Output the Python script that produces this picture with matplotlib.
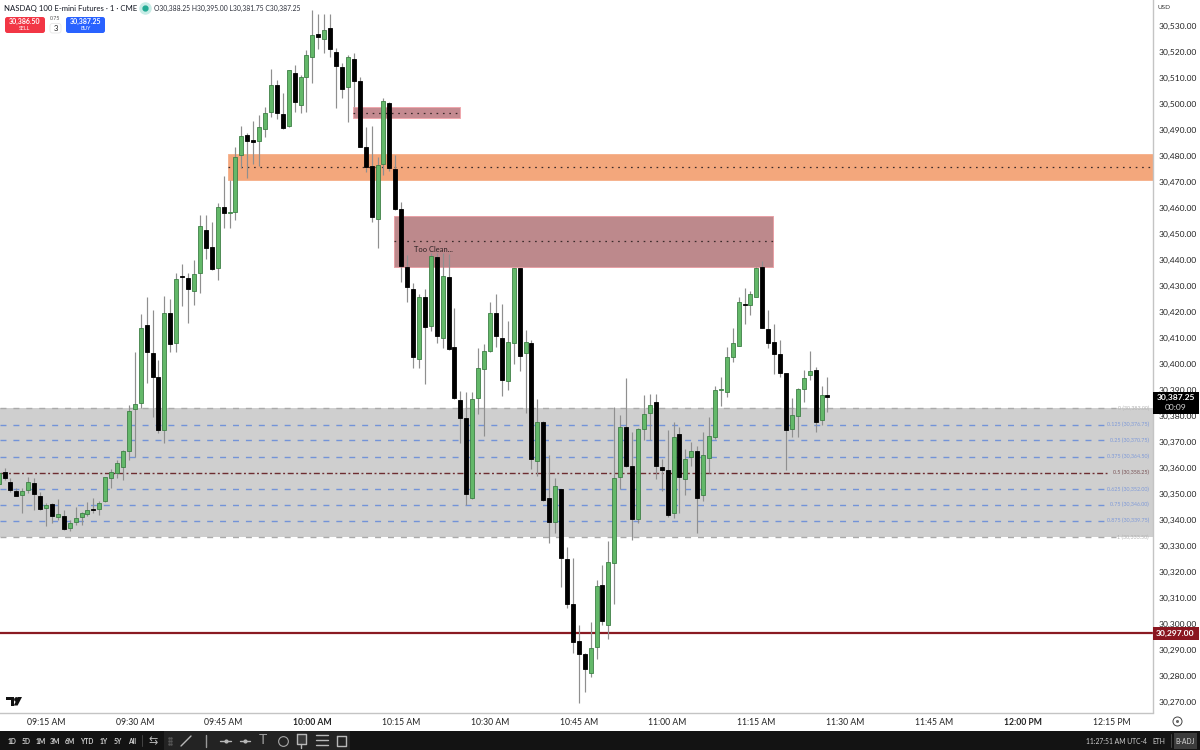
import numpy as np
import matplotlib
matplotlib.use("Agg")
import matplotlib.pyplot as plt
from matplotlib.patches import Rectangle, FancyBboxPatch, Polygon
from matplotlib.lines import Line2D
from matplotlib.ticker import FuncFormatter

plt.rcParams['font.family'] = ['Lato', 'DejaVu Sans']
plt.rcParams['lines.scale_dashes'] = False

PRICE_BASE = 30000
bar_minutes = np.arange(-8, 133)  # minutes after 09:15 AM

opens = PRICE_BASE + np.array([
    354.0,358.7,354.6,351.4,349.7,351.5,354.5,349.2,
    344.8,346.3,341.4,341.6,336.9,339.5,341.1,342.3,344.5,344.5,
    347.4,356.1,358.3,360.6,366.5,382.9,385.2,415.0,404.2,395.1,
    374.7,419.8,408.3,433.9,433.3,428.3,435.0,451.6,445.1,436.9,
    460.4,458.0,458.7,480.5,488.2,486.3,485.9,490.6,496.9,507.5,
    496.4,491.6,512.0,499.7,510.5,518.0,527.2,525.2,529.2,520.2,
    514.5,506.5,517.3,508.9,483.6,476.3,455.9,476.9,500.6,475.2,
    459.7,437.3,429.0,402.2,425.8,414.7,441.4,410.2,433.4,406.8,
    386.3,379.3,348.6,386.9,398.2,405.1,419.6,410.2,393.7,408.0,
    436.9,404.2,408.3,362.7,377.9,348.4,339.2,351.9,325.1,307.7,
    293.7,288.4,281.1,291.4,315.2,299.8,323.7,356.8,375.7,360.9,
    340.4,375.0,381.4,385.4,360.5,359.5,342.7,373.0,355.8,364.2,
    366.6,349.8,364.0,371.9,390.0,389.5,402.9,407.2,423.3,422.9,
    425.9,437.3,413.6,408.7,403.9,396.5,375.0,380.2,390.6,395.9,
    397.8,378.6,388.25])
closes = PRICE_BASE + np.array([
    358.0,356.1,351.6,349.5,351.1,354.6,350.1,344.2,
    345.9,341.8,342.3,336.5,338.8,341.0,342.9,344.1,344.1,346.6,
    356.6,358.4,362.2,366.5,381.9,384.6,414.1,404.6,395.2,374.7,
    419.8,407.7,432.7,433.7,428.9,434.6,453.2,444.6,436.5,460.4,
    458.0,458.7,479.8,487.7,485.9,485.6,491.1,496.6,507.5,496.8,
    490.9,513.2,500.9,510.5,518.9,526.8,525.7,528.4,521.1,514.7,
    506.0,518.0,509.1,483.7,476.0,456.8,476.5,501.1,475.4,459.7,
    437.9,429.6,402.7,425.8,414.5,441.8,411.0,434.0,405.8,386.9,
    379.3,350.1,386.8,398.4,405.2,419.6,411.0,393.9,408.7,436.9,
    403.3,408.7,363.6,377.7,347.8,339.5,353.3,325.4,307.7,293.2,
    288.4,282.8,290.7,314.8,301.3,323.8,356.1,375.7,360.7,340.4,
    375.0,380.8,384.3,361.0,359.3,342.1,372.2,356.6,363.6,366.6,
    348.7,365.2,372.6,390.0,390.4,402.7,408.1,423.9,422.7,426.9,
    437.1,414.0,408.3,403.9,396.7,374.7,380.4,390.6,394.9,397.6,
    377.8,388.3,387.25])
highs = PRICE_BASE + np.array([
    359.3,360.0,356.1,352.5,352.3,356.8,356.1,350.7,
    346.5,346.5,348.3,343.9,340.1,345.2,343.3,347.0,348.4,347.5,
    356.8,359.7,363.2,367.0,384.3,404.6,419.2,426.0,420.9,401.6,
    426.4,425.0,435.2,438.6,435.0,440.0,457.4,457.4,454.6,461.9,
    472.5,470.9,483.7,491.8,488.8,493.7,495.9,498.8,513.4,509.3,
    504.2,513.2,515.1,511.3,520.9,536.3,534.7,534.7,534.7,521.5,
    515.7,518.9,519.6,510.6,491.4,491.6,479.8,502.3,501.0,480.5,
    462.6,442.0,431.1,427.0,428.8,442.7,442.7,442.7,442.3,421.8,
    389.7,389.2,389.2,406.1,407.7,423.8,426.9,423.0,416.8,437.2,
    436.9,413.2,409.3,386.5,378.0,365.1,356.1,352.0,329.6,325.6,
    299.7,288.8,300.7,317.0,322.8,332.0,383.7,380.5,394.6,373.9,
    375.4,388.2,388.5,388.5,363.6,374.8,377.7,375.8,367.5,370.3,
    368.4,373.9,379.9,391.7,395.3,406.8,413.9,426.0,429.5,428.3,
    437.3,439.7,420.9,415.5,409.4,396.5,386.9,390.7,397.8,405.2,
    398.8,391.8,395.0])
lows = PRICE_BASE + np.array([
    352.9,355.5,351.0,349.3,342.9,350.4,343.9,343.9,
    337.9,338.8,340.1,336.2,336.0,338.2,338.2,341.6,342.7,341.9,
    347.1,352.4,356.1,355.5,363.2,364.2,383.0,392.7,379.8,373.4,
    369.6,404.7,404.8,422.4,415.7,422.8,427.3,440.4,436.2,432.4,
    452.3,452.3,455.5,475.4,471.8,477.0,476.4,487.3,495.2,494.3,
    490.4,491.4,497.0,496.5,497.2,508.0,521.3,519.8,518.3,498.4,
    502.3,493.0,499.1,483.4,474.1,454.8,444.6,472.8,474.5,459.3,
    431.8,424.1,398.4,398.4,392.4,412.9,408.1,406.1,405.5,386.5,
    369.6,345.9,348.0,380.7,372.4,404.8,406.8,387.8,390.1,400.1,
    397.5,381.1,359.6,357.0,347.5,331.4,335.0,314.2,306.4,288.8,
    269.8,273.8,279.6,286.5,299.7,294.2,307.8,351.9,360.5,332.5,
    339.1,370.9,370.9,355.8,351.1,341.4,340.7,342.7,349.8,360.7,
    335.0,347.6,358.1,371.3,384.1,387.6,401.0,407.0,415.5,419.0,
    425.8,413.8,406.1,396.3,395.3,359.4,372.2,372.2,385.6,394.0,
    373.9,376.7,381.75])

price_ticks = list(range(30270, 30540, 10))
time_tick_minutes = [0, 15, 30, 45, 60, 75, 90, 105, 120, 135, 150, 165, 180]
time_tick_labels = ['09:15 AM', '09:30 AM', '09:45 AM', '10:00 AM', '10:15 AM', '10:30 AM',
                    '10:45 AM', '11:00 AM', '11:15 AM', '11:30 AM', '11:45 AM', '12:00 PM', '12:15 PM']
bold_time_labels = ['10:00 AM', '12:00 PM']

fib_ratios = ['0', '0.125', '0.25', '0.375', '0.5', '0.625', '0.75', '0.875', '1']
fib_prices = [30383.00, 30376.75, 30370.75, 30364.50, 30358.25, 30352.00, 30346.00, 30339.75, 30333.50]

key_level_label = 30297.00
key_level_drawn = 30296.5
last_price = 30387.25
orange_zone = (30.8, 187, 30470.8, 30480.9)
small_red_zone = (51.8, 69.9, 30494.7, 30498.9)
big_red_zone = (58.8, 122.8, 30437.3, 30457.2)

W, H = 1200, 750
fig = plt.figure(figsize=(12, 7.5), dpi=100, facecolor='white')
ax = fig.add_axes([0, 1 - 712.5 / H, 1153.3 / W, 712.5 / H])
ax.set_xlim(-46 / 5.92, (1153.3 - 46) / 5.92)
ax.set_ylim(30360 - (712.5 - 468.3) / 2.6, 30360 + 468.3 / 2.6)
X_LEFT = ax.get_xlim()[0]


def fx(x):
    return x / W


def fy(y):
    return 1 - y / H


def ftext(x, y, s, **kw):
    kw.setdefault('va', 'center')
    kw.setdefault('zorder', 7)
    fig.text(fx(x), fy(y), s, **kw)


def frect(x0, y0, x1, y1, color, zorder=5):
    fig.add_artist(Rectangle((fx(x0), fy(y1)), (x1 - x0) / W, (y1 - y0) / H,
                             transform=fig.transFigure, facecolor=color, edgecolor='none', zorder=zorder))


def fline(xs, ys, color='#b8b8b8', lw=1.0, zorder=7):
    fig.add_artist(Line2D([fx(v) for v in xs], [fy(v) for v in ys], transform=fig.transFigure,
                          color=color, lw=lw, zorder=zorder, solid_capstyle='round'))


def fround(x0, y0, x1, y1, color, edge='none', zorder=6):
    fig.add_artist(FancyBboxPatch((fx(x0), fy(y1)), (x1 - x0) / W, (y1 - y0) / H,
                                  boxstyle='round,pad=0,rounding_size=0.002', mutation_aspect=W / H,
                                  transform=fig.transFigure, facecolor=color, edgecolor=edge, lw=0.6, zorder=zorder))


# shaded band and its levels
ax.axhspan(fib_prices[-1], fib_prices[0], facecolor='#cfcfcf', edgecolor='none', zorder=1)

LABEL_END = (1149 - 46) / 5.92
for ratio, price in zip(fib_ratios, fib_prices):
    line_end = (1107 - 46) / 5.92
    if ratio in ('0', '1'):
        col, dash, txt = '#aaaaaa', (0, (4.3, 5.0)), '#b5b5b5'
        line_end = (1116 - 46) / 5.92
    elif ratio == '0.5':
        col, dash, txt = '#6d2c30', (0, (4.3, 1.8, 1.4, 1.9)), '#7a5558'
    else:
        col, dash, txt = '#7393d8', (0, (4.3, 5.0)), '#7f9ad8'
    ax.plot([X_LEFT, line_end], [price, price], color=col, lw=1.0, linestyle=dash, zorder=1.5)
    ax.text(LABEL_END, price, f'{ratio} ({price:,.2f})', color=txt, fontsize=3.85,
            ha='right', va='center', zorder=1.6)

# zones
for (x0, x1, y0, y1), face, edge in [
    (orange_zone, '#f3a77c', '#f6b48f'),
    (small_red_zone, '#c48a90', '#f0a8ae'),
    (big_red_zone, '#bd898c', '#e9a0a6'),
]:
    ax.add_patch(Rectangle((x0, y0), x1 - x0, y1 - y0, facecolor=face, edgecolor=edge, lw=0.7, zorder=2))
    ax.plot([x0, x1], [(y0 + y1) / 2] * 2, color='#3a2a2a', lw=0.9, linestyle=(0, (1.2, 3.4)), zorder=2.1)

ax.text(62.2, 30444.2, 'Too Clean...', fontsize=5.4, color='#2b2022', ha='left', va='center', zorder=2.2)

# key level
ax.axhline(key_level_drawn, color='#8a1a22', lw=1.6, zorder=2.3)

# candles
up = closes >= opens
ax.vlines(bar_minutes, lows, highs, colors='#8f8f8f', lw=0.85, zorder=3)
ax.bar(bar_minutes[up], (closes - opens)[up], bottom=opens[up], width=0.68,
       color='#63b869', edgecolor='#3f7f47', lw=0.6, zorder=3.2)
ax.bar(bar_minutes[~up], (opens - closes)[~up], bottom=closes[~up], width=0.68,
       color='#000000', edgecolor='#000000', lw=0.6, zorder=3.2)

# axes
ax.set_facecolor('white')
for name, spine in ax.spines.items():
    spine.set_visible(name in ('right', 'bottom'))
    spine.set_color('#c4c4c4')
    spine.set_linewidth(1.0)
ax.set_xticks(time_tick_minutes)
ax.set_xticklabels(time_tick_labels)
ax.tick_params(axis='x', length=0, pad=4, labelsize=6.2, labelcolor='#222222')
for lab in ax.get_xticklabels():
    if lab.get_text() in bold_time_labels:
        lab.set_fontweight('bold')
ax.yaxis.tick_right()
ax.set_yticks(price_ticks)
ax.yaxis.set_major_formatter(FuncFormatter(lambda v, _: f'{v:,.2f}'))
ax.tick_params(axis='y', length=0, pad=3.9, labelsize=6.1, labelcolor='#222222')

# price tags
frect(1153.3, 392, 1198.5, 413.5, '#000000')
ftext(1175.5, 397.5, f'{last_price:,.2f}', color='white', fontsize=6.1, ha='center', fontweight='bold')
ftext(1175.5, 407.5, '00:09', color='#d8d8d8', fontsize=6.1, ha='center')
frect(1153.3, 627.3, 1198.5, 639.5, '#8a1620')
ftext(1175.5, 633.3, f'{key_level_label:,.2f}', color='white', fontsize=6.1, ha='center', fontweight='bold')

# header
ftext(4, 8, 'NASDAQ 100 E-mini Futures · 1 · CME', fontsize=5.6, color='#131722')
fig.add_artist(Line2D([fx(145)], [fy(8)], marker='o', ms=8, color='#c7ece6', transform=fig.transFigure, zorder=6))
fig.add_artist(Line2D([fx(145)], [fy(8)], marker='o', ms=3.5, color='#22ab94', transform=fig.transFigure, zorder=7))
ftext(154, 8.3, 'O30,388.25 H30,395.00 L30,381.75 C30,387.25', fontsize=4.9, color='#2a2e39')
ftext(1158, 7.5, 'USD', fontsize=4.6, color='#333333')

fround(5, 17, 45, 33, '#f23645')
ftext(25, 21, '30,386.50', color='white', fontsize=5.0, ha='center', fontweight='bold')
ftext(25, 28.5, 'SELL', color='white', fontsize=3.8, ha='center')
ftext(55.5, 19, '0.75', color='#555555', fontsize=3.8, ha='center')
fround(50, 23.5, 61, 33, 'white', edge='#e6e6e6')
ftext(55.5, 28.3, '3', color='#222222', fontsize=5.6, ha='center')
fround(66, 17, 105, 33, '#2962ff')
ftext(85.5, 21, '30,387.25', color='white', fontsize=5.0, ha='center', fontweight='bold')
ftext(85.5, 28.5, 'BUY', color='white', fontsize=3.8, ha='center')

# logo mark
for pts in [[(6, 697), (14, 697), (14, 705.5), (10.5, 705.5), (10.5, 700.3), (6, 700.3)],
            [(18, 697), (22, 697), (17.6, 705.5), (13.8, 705.5)]]:
    fig.add_artist(Polygon([(fx(a), fy(b)) for a, b in pts], closed=True, transform=fig.transFigure,
                           facecolor='#111111', edgecolor='none', zorder=6))
fig.add_artist(Line2D([fx(16)], [fy(699)], marker='o', ms=2.4, color='#111111', transform=fig.transFigure, zorder=6))

# settings circle
fig.add_artist(Line2D([fx(1177)], [fy(721)], marker='o', ms=6.5, mfc='none', mec='#444444', mew=0.7,
                      transform=fig.transFigure, zorder=6))
fig.add_artist(Line2D([fx(1177)], [fy(721)], marker='o', ms=2.2, mfc='#666666', mec='none',
                      transform=fig.transFigure, zorder=6))

# bottom toolbar
frect(0, 730.5, W, H, '#131313', zorder=4)
frect(164, 730.5, 350, H, '#232323', zorder=4.5)
for x, s in zip([12, 26, 41, 55, 70, 87, 104, 117.5, 132],
                ['1D', '5D', '1M', '3M', '6M', 'YTD', '1Y', '5Y', 'All']):
    ftext(x, 741, s, color='#d0d0d0', fontsize=4.9, ha='center', fontweight='bold')
fline([142, 142], [735, 746], color='#444444', lw=0.7)
ftext(153.5, 740.5, '⇆', color='#b8b8b8', fontsize=8, ha='center')
for gy in (737.5, 740.5, 743.5):
    fig.add_artist(Line2D([fx(168.5), fx(171)], [fy(gy), fy(gy)], ls='none', marker='o', ms=0.8,
                          color='#555555', transform=fig.transFigure, zorder=7))
ftext(263, 740.5, 'T', color='#a0a0a0', fontsize=10, ha='center')
fline([181, 191], [746, 736])
fline([205.5, 205.5], [735, 747], color='#9a9a9a')
fline([220, 231], [741, 741])
fline([240, 250], [741, 741])
fig.add_artist(Line2D([fx(225.5), fx(245)], [fy(741), fy(741)], ls='none', marker='o', ms=2, color='#b8b8b8',
                      transform=fig.transFigure, zorder=7))
fig.add_artist(Line2D([fx(283)], [fy(741)], marker='o', ms=7, mfc='none', mec='#a8a8a8', mew=0.8,
                      transform=fig.transFigure, zorder=7))
frect(297, 733.5, 306, 744, '#3a3a3a', zorder=6)
fline([297, 306, 306, 297, 297], [733.5, 733.5, 744, 744, 733.5])
fline([301.5, 301.5], [744, 748])
fline([316, 328], [735, 735]); fline([316, 328], [740, 740]); fline([316, 328], [745, 745])
fline([337, 346, 346, 337, 337], [736, 736, 746, 746, 736])
ftext(1116.5, 741, '11:27:51 AM UTC-4', color='#d0d0d0', fontsize=4.9, ha='center')
ftext(1159, 741, 'ETH', color='#d0d0d0', fontsize=4.9, ha='center')
fline([1170.5, 1170.5], [734, 747], color='#444444', lw=0.7)
frect(1174, 732.5, 1197, 748.5, '#3c3c3c', zorder=5)
ftext(1185.5, 741, 'B-ADJ', color='#d8d8d8', fontsize=4.9, ha='center')

fig.savefig('out.png', dpi=100)
